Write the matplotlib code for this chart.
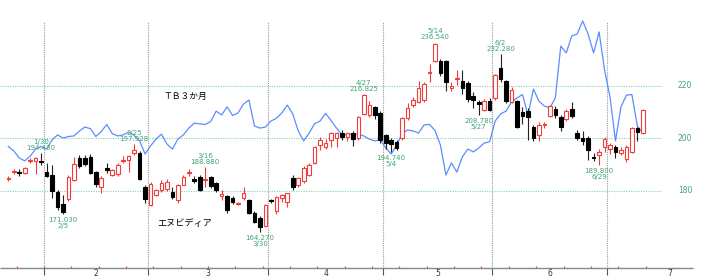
import numpy as np
import matplotlib.pyplot as plt

# Daily candles for エヌビディア, one entry per bar (left to right)
opens = [184.6, 187.0, 187.3, 186.9, 191.4, 191.3, 191.5, 187.3, 186.0, 179.6,
         174.9, 176.7, 184.1, 192.6, 192.4, 193.0, 187.3, 181.3, 188.8, 186.0,
         186.3, 191.3, 191.7, 194.3, 194.3, 181.3, 174.5, 178.4, 180.3, 180.5,
         179.6, 176.6, 182.2, 186.9, 184.4, 185.1, 184.0, 185.3, 182.8, 178.0,
         178.0, 177.1, 175.1, 177.1, 176.4, 171.4, 169.5, 166.5, 176.3, 172.4,
         177.1, 175.8, 184.7, 182.2, 183.8, 186.0, 190.7, 197.5, 196.8, 199.4,
         200.0, 202.1, 200.6, 202.1, 200.0, 209.2, 208.9, 212.1, 209.8, 201.3,
         199.4, 198.7, 200.0, 207.6, 212.7, 214.0, 214.6, 224.8, 229.5, 229.5,
         229.6, 219.1, 222.8, 221.9, 221.0, 216.1, 214.0, 210.8, 214.2, 215.3,
         227.0, 221.9, 214.0, 214.2, 210.2, 210.4, 204.4, 201.3, 205.2, 208.6,
         211.1, 208.2, 207.4, 211.1, 201.9, 200.0, 200.2, 193.0, 193.6, 196.8,
         195.9, 196.8, 194.3, 192.1, 194.9, 204.0, 201.9]
highs = [185.5, 188.4, 188.3, 189.1, 192.4, 193.0, 194.43, 190.5, 189.8, 180.3,
         178.4, 186.0, 193.0, 193.5, 193.7, 193.9, 187.6, 185.5, 190.5, 188.3,
         190.7, 193.3, 193.8, 197.928, 195.0, 182.2, 183.5, 180.8, 184.2, 184.5,
         181.5, 182.5, 186.0, 188.2, 185.6, 186.0, 188.88, 185.8, 183.5, 180.3,
         178.5, 178.0, 175.8, 181.5, 177.0, 172.1, 170.5, 175.0, 177.0, 178.0,
         178.8, 179.3, 186.1, 185.4, 189.3, 190.5, 197.0, 200.5, 199.9, 202.5,
         202.3, 203.0, 202.5, 202.8, 208.6, 216.825, 214.3, 212.5, 210.5, 201.8,
         200.3, 199.4, 208.0, 213.5, 215.8, 221.8, 221.5, 228.5, 236.54, 230.4,
         230.0, 221.5, 226.0, 226.1, 222.0, 217.5, 214.5, 215.0, 215.3, 224.6,
         232.28, 222.3, 219.4, 214.8, 212.0, 211.5, 205.0, 206.2, 206.2, 212.8,
         212.2, 209.0, 211.0, 214.0, 203.0, 202.6, 201.0, 194.5, 196.1, 200.4,
         198.2, 197.6, 196.8, 197.4, 204.2, 204.4, 211.0]
lows = [183.8, 186.4, 185.8, 186.2, 190.5, 186.4, 189.8, 185.3, 177.1, 172.6,
        171.03, 176.0, 183.6, 188.5, 189.5, 186.3, 181.5, 179.0, 186.6, 185.5,
        185.6, 190.5, 187.3, 193.8, 184.0, 175.5, 174.2, 178.0, 179.5, 180.0,
        177.0, 175.5, 182.0, 185.8, 183.0, 180.0, 181.5, 181.0, 179.5, 176.6,
        171.5, 174.8, 174.5, 176.6, 171.0, 167.5, 164.27, 166.0, 175.2, 171.3,
        175.8, 173.6, 180.3, 181.4, 183.0, 185.5, 190.3, 195.6, 196.0, 196.8,
        196.8, 199.5, 199.0, 197.0, 199.5, 208.8, 208.0, 207.3, 198.3, 196.1,
        194.74, 195.5, 199.5, 207.0, 212.0, 213.5, 213.8, 221.6, 229.0, 223.6,
        218.2, 217.9, 220.3, 216.8, 214.0, 211.7, 208.78, 210.3, 210.3, 214.8,
        221.5, 213.5, 213.6, 203.8, 205.5, 199.4, 199.0, 199.0, 204.0, 208.0,
        207.8, 202.7, 206.5, 207.8, 199.4, 197.4, 191.7, 191.5, 189.8, 194.9,
        194.2, 192.6, 193.5, 191.0, 194.5, 199.0, 201.5]
closes = [184.8, 187.6, 186.6, 188.5, 191.6, 192.6, 190.8, 185.6, 180.0, 173.9,
          171.8, 185.3, 190.2, 189.3, 190.1, 186.6, 182.6, 184.7, 187.9, 187.9,
          189.8, 191.6, 193.2, 195.5, 184.4, 176.7, 182.6, 180.3, 183.1, 183.4,
          177.5, 182.2, 185.1, 187.1, 183.8, 180.3, 184.3, 181.8, 180.3, 178.7,
          172.6, 175.8, 175.3, 179.0, 171.6, 168.2, 166.0, 174.5, 176.0, 177.5,
          178.4, 179.0, 181.5, 184.7, 188.5, 189.8, 196.6, 199.4, 198.3, 201.9,
          201.9, 200.6, 201.9, 199.6, 208.0, 216.5, 212.7, 208.9, 199.4, 198.3,
          197.8, 196.2, 207.6, 211.5, 214.6, 219.1, 220.6, 225.4, 235.9, 224.8,
          221.6, 220.1, 223.0, 219.1, 214.9, 214.6, 213.1, 214.2, 210.8, 224.2,
          222.5, 214.4, 218.4, 204.4, 208.6, 208.2, 200.2, 205.1, 205.4, 212.4,
          208.9, 204.4, 210.4, 208.5, 200.0, 199.0, 195.5, 192.4, 194.9, 199.7,
          197.4, 194.7, 195.5, 196.8, 203.8, 202.5, 210.8]

# ＴＢ３か月 line, read against the right-hand scale
tb3 = [196.9, 195.2, 192.5, 191.4, 193.2, 195.9, 196.9, 195.9, 199.4, 201.3,
       200.1, 200.7, 200.9, 202.8, 204.3, 203.7, 200.7, 202.6, 205.3, 201.8,
       200.9, 201.3, 202.4, 201.1, 199.0, 194.0, 197.1, 199.7, 201.6, 197.8,
       195.9, 199.7, 201.3, 203.9, 205.8, 205.5, 205.3, 206.4, 210.4, 208.9,
       212.0, 208.7, 209.7, 213.1, 214.6, 204.7, 203.9, 204.3, 206.6, 207.6,
       209.7, 212.7, 209.3, 202.8, 199.0, 202.0, 205.6, 206.6, 209.5, 206.8,
       203.9, 201.3, 201.3, 201.8, 201.5, 200.9, 199.7, 199.0, 199.5, 196.3,
       194.0, 197.4, 201.8, 203.2, 202.8, 202.0, 205.1, 205.3, 203.0, 197.4,
       186.0, 190.6, 187.1, 192.9, 195.9, 194.8, 196.3, 198.2, 198.7, 206.6,
       209.3, 210.4, 213.9, 215.4, 216.7, 208.9, 218.8, 214.2, 212.3, 211.6,
       215.4, 235.2, 232.6, 239.1, 239.8, 244.8, 239.8, 232.6, 240.6, 226.1,
       215.8, 199.0, 212.0, 216.5, 216.7, 204.7, 202.0]

# first bar of each month and the month labels
month_starts = [7, 26, 48, 69, 89, 110]
month_labels = ['2', '3', '4', '5', '6', '7']

# marked highs and lows: (bar index, date)
peak_marks = [(6, '1/30'), (23, '2/25'), (36, '3/16'), (65, '4/27'), (78, '5/14'), (90, '6/2')]
trough_marks = [(10, '2/5'), (46, '3/30'), (70, '5/4'), (86, '5/27'), (108, '6/29')]

y_levels = [180, 200, 220]

UP = '#f23c3c'
GREEN = '#3ea574'
GRID = '#86d3ad'
JP = ['Noto Sans CJK JP', 'DejaVu Sans']

fig = plt.figure(figsize=(7.07, 2.8), dpi=100)
ax = fig.add_axes([0, 0, 1, 1])
ax.set_xlim(-1.52, 127.73)
ax.set_ylim(145.92, 252.79)
ax.axis('off')

# grid and axis
ax.hlines(y_levels, -1.52, 119.3, colors=GRID, linestyles=(0, (1, 1.2)), lw=0.8, zorder=1)
bounds = np.array(month_starts) - 0.5
ax.vlines(bounds, 150.5, 244.4, colors='#9a9a9a', linestyles=(0, (1, 1)), lw=0.8, zorder=1)
ax.vlines(bounds, 147.9, 150.5, colors='#555555', lw=0.8, zorder=1)
ax.hlines(150.5, -1.52, 125.2, colors='#888888', lw=1.0, zorder=1)
ax.vlines(np.arange(1.5, 118, 5), 150.5, 151.3, colors=UP, lw=0.8, zorder=1)

for v in y_levels:
    ax.text(123.7, v, str(v), ha='center', va='center', fontsize=5.5, color=GREEN)

label_pos = list((bounds[:-1] + bounds[1:]) / 2) + [bounds[-1] + 11.5]
for p, lab in zip(label_pos, month_labels):
    ax.text(p, 148.5, lab, ha='center', va='center', fontsize=5.5, color='#333333')

# TB3 line
x = np.arange(len(opens))
ax.plot(x, tb3, color='#5a8dff', lw=0.9, zorder=2)

# candles
o, h, l, c = map(np.array, (opens, highs, lows, closes))
up = c >= o
ax.vlines(x, l, h, colors=np.where(up, UP, '#222222'), lw=0.8, zorder=3)
ax.bar(x, np.maximum(np.abs(c - o), 0.35), width=0.66, bottom=np.minimum(o, c),
       color=np.where(up, 'white', 'black'), edgecolor=np.where(up, UP, 'black'),
       linewidth=0.8, zorder=4)

# high / low marks
for i, d in peak_marks:
    ax.annotate(f'{d}\n{highs[i]:.3f}', (i, highs[i]), xytext=(0, 1.5), textcoords='offset points',
                ha='center', va='bottom', fontsize=5, color=GREEN, linespacing=1.0, zorder=5)
for i, d in trough_marks:
    ax.annotate(f'{lows[i]:.3f}\n{d}', (i, lows[i]), xytext=(0, -2), textcoords='offset points',
                ha='center', va='top', fontsize=5, color=GREEN, linespacing=1.0, zorder=5)

ax.text(28.3, 216.1, 'ＴＢ３か月', fontsize=6.3, family=JP, ha='left', va='center')
ax.text(27.2, 167.3, 'エヌビディア', fontsize=6.6, family=JP, ha='left', va='center')

fig.savefig('out.png', dpi=100, facecolor='white')
